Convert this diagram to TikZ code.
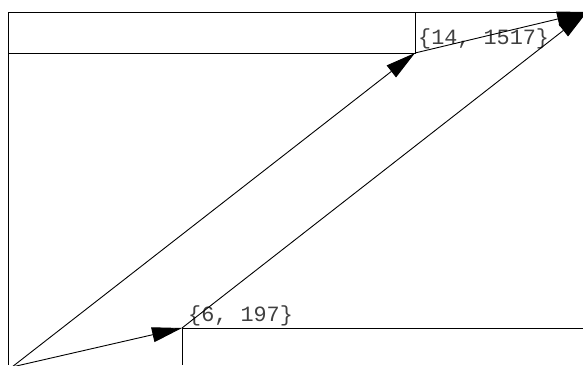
\documentclass[tikz,border=0pt]{standalone}
\usepackage{fontspec}
\newfontfamily\monofam{Liberation Mono}
\usetikzlibrary{arrows.meta}
\begin{document}
\begin{tikzpicture}[x=1pt,y=1pt,
  gridline/.style={draw=black, line width=0.9pt},
  conn/.style={draw=black, line width=0.9pt, -{Triangle[length=30pt,width=15pt]}},
  lbl/.style={font=\monofam\fontsize{21.8}{22}\selectfont, text=black!75, inner sep=0pt, anchor=base west}]
\useasboundingbox (0,0) rectangle (583,365);
\coordinate (O) at (12,-2);
\coordinate (A) at (182,37);
\coordinate (B) at (415,312);
\coordinate (C) at (587,353);
\draw[gridline] (583,353) -- (8,353) -- (8,0);
\draw[gridline] (8,312) -- (B) -- (415,353);
\draw[gridline] (583,37) -- (A) -- (182,0);
\node[lbl] (la) at (188,44) {\{6, 197\}};
\node[lbl] (lb) at (418,320) {\{14, 1517\}};
\draw[conn] (O) -- (A);
\draw[conn] (O) -- (B);
\draw[conn] (A) -- (C);
\draw[conn] (B) -- (C);
\end{tikzpicture}
\end{document}
